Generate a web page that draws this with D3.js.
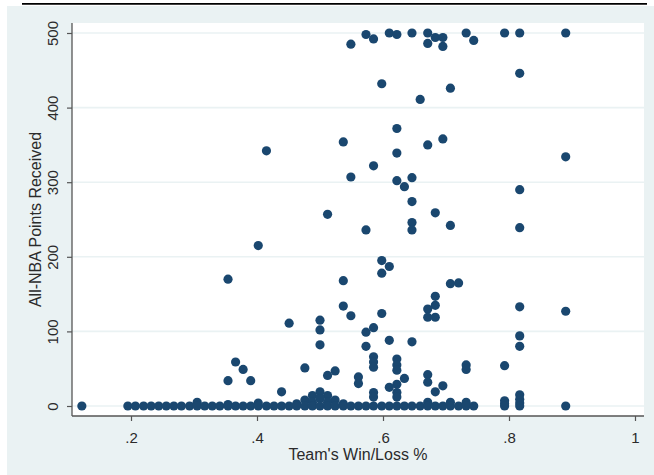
<!DOCTYPE html>
<html>
<head>
<meta charset="utf-8">
<script src="https://cdn.jsdelivr.net/npm/d3@7"></script>
<style>
  html, body { margin: 0; padding: 0; background: #ffffff; }
  svg { display: block; font-family: "Liberation Sans", Arial, sans-serif; }
</style>
</head>
<body>
<svg id="chart" width="654" height="475"></svg>
<script>
// team win/loss % and All-NBA points received
const winPct = [
  // players with votes
  0.549, 0.573, 0.585, 0.610, 0.622, 0.646, 0.671, 0.671, 0.683, 0.695, 0.695, 0.732, 0.744,
  0.793, 0.817, 0.890, 0.598, 0.707, 0.659, 0.817,
  0.622, 0.537, 0.671, 0.695, 0.622, 0.585, 0.549, 0.622, 0.646, 0.634, 0.646, 0.512, 0.683,
  0.890, 0.817, 0.415,
  0.573, 0.646, 0.646, 0.707, 0.817, 0.402, 0.598, 0.610, 0.598, 0.537, 0.707, 0.720, 0.354,
  0.683, 0.683, 0.671, 0.671, 0.683, 0.537, 0.549, 0.598, 0.817, 0.890, 0.451,
  0.500, 0.500, 0.500, 0.573, 0.585, 0.573, 0.610, 0.646, 0.817, 0.817,
  0.585, 0.585, 0.585, 0.622, 0.622, 0.622, 0.732, 0.732, 0.793, 0.476, 0.512, 0.524,
  0.561, 0.561, 0.634, 0.671, 0.671, 0.695, 0.366, 0.378, 0.354, 0.390, 0.439,
  0.585, 0.585, 0.622, 0.622, 0.622, 0.610, 0.683, 0.671, 0.707, 0.732,
  0.793, 0.793, 0.817, 0.817, 0.817, 0.305, 0.402, 0.354,
  0.500, 0.488, 0.512, 0.476, 0.524, 0.500, 0.488, 0.512, 0.463, 0.537,
  // players with zero points
  0.122, 0.195, 0.207, 0.220, 0.232, 0.244, 0.256, 0.268, 0.280, 0.293, 0.305, 0.317,
  0.329, 0.341, 0.354, 0.366, 0.378, 0.390, 0.402, 0.415, 0.427, 0.439, 0.451, 0.463,
  0.476, 0.488, 0.500, 0.512, 0.524, 0.537, 0.549, 0.561, 0.573, 0.585, 0.598, 0.610,
  0.622, 0.634, 0.646, 0.659, 0.671, 0.683, 0.695, 0.707, 0.720, 0.732, 0.744,
  0.793, 0.817, 0.890
];
const allNbaPts = [
  485, 498, 492, 500, 498, 500, 500, 486, 494, 494, 482, 500, 490,
  500, 500, 500, 432, 426, 411, 446,
  372, 354, 350, 358, 339, 322, 307, 302, 306, 294, 274, 257, 259,
  334, 290, 342,
  236, 246, 236, 242, 239, 215, 195, 187, 178, 168, 164, 165, 170,
  147, 135, 130, 119, 119, 134, 121, 124, 133, 127, 111,
  115, 102, 82, 99, 105, 80, 88, 86, 94, 80,
  66, 59, 52, 63, 55, 48, 55, 49, 54, 51, 41, 47,
  39, 30, 37, 42, 32, 27, 59, 49, 34, 34, 19,
  18, 12, 29, 18, 12, 25, 19, 5, 5, 5,
  7, 3, 15, 9, 4, 5, 4, 2,
  19, 14, 14, 8, 8, 10, 5, 5, 3, 3,
  0, 0, 0, 0, 0, 0, 0, 0, 0, 0, 0, 0,
  0, 0, 0, 0, 0, 0, 0, 0, 0, 0, 0, 0,
  0, 0, 0, 0, 0, 0, 0, 0, 0, 0, 0, 0,
  0, 0, 0, 0, 0, 0, 0, 0, 0, 0, 0,
  0, 0, 0
];
const xTicks = [0.2, 0.4, 0.6, 0.8, 1];
const yTicks = [0, 100, 200, 300, 400, 500];
const xTitle = "Team's Win/Loss %";
const yTitle = "All-NBA Points Received";

const points = winPct.map(function (w, i) {
    return {win: w, pts: allNbaPts[i]};
});

const bg = '#eaf2f3';
const navy = '#1a476f';
const ink = '#2b2b2b';

// plot region (white box) bounds
const plotLeft = 72, plotRight = 644, plotTop = 23, plotBottom = 416;

const svg = d3.select('#chart');

// cut-off caption rule at the very top
svg.append('line')
    .attr('x1', 22).attr('x2', 647)
    .attr('y1', 3.8).attr('y2', 3.8)
    .attr('stroke', '#000').attr('stroke-width', 1.8);

// graph region
svg.append('rect')
    .attr('x', 7).attr('y', 6)
    .attr('width', 654 - 7).attr('height', 475 - 6)
    .attr('fill', bg);

svg.append('rect')
    .attr('x', plotLeft).attr('y', plotTop)
    .attr('width', plotRight - plotLeft).attr('height', plotBottom - plotTop)
    .attr('fill', '#ffffff');

const x = d3.scaleLinear().domain([0.2, 1]).range([131, 635]);
const y = d3.scaleLinear().domain([0, 500]).range([406, 33]);

// gridlines
svg.append('g')
    .selectAll('line')
    .data(yTicks)
    .enter().append('line')
    .attr('x1', plotLeft).attr('x2', plotRight)
    .attr('y1', function (d) { return y(d) })
    .attr('y2', function (d) { return y(d) })
    .attr('stroke', bg).attr('stroke-width', 1.6);

// markers
svg.append('g')
    .selectAll('circle')
    .data(points)
    .enter().append('circle')
    .attr('cx', function (d) { return x(d.win) })
    .attr('cy', function (d) { return y(d.pts) })
    .attr('r', 4.6)
    .attr('fill', navy);

// x axis
const xAxis = svg.append('g')
    .attr('transform', 'translate(0,' + plotBottom + ')')
    .call(d3.axisBottom(x)
        .tickValues(xTicks)
        .tickSize(5)
        .tickSizeOuter(0)
        .tickFormat(function (d) { return d === 1 ? '1' : '.' + Math.round(d * 10) }));
xAxis.select('.domain').remove();
xAxis.append('line')
    .attr('x1', plotLeft).attr('x2', plotRight)
    .attr('stroke', '#555').attr('stroke-width', 1.3);
xAxis.selectAll('.tick line').attr('stroke', '#555').attr('stroke-width', 1.2);
xAxis.selectAll('.tick text')
    .attr('y', 27).attr('dy', 0)
    .attr('fill', ink)
    .style('font-size', '15px');

// y axis
const yAxis = svg.append('g')
    .attr('transform', 'translate(' + plotLeft + ',0)')
    .call(d3.axisLeft(y)
        .tickValues(yTicks)
        .tickSize(5)
        .tickSizeOuter(0));
yAxis.select('.domain').remove();
yAxis.append('line')
    .attr('y1', plotTop).attr('y2', plotBottom)
    .attr('stroke', '#555').attr('stroke-width', 1.3);
yAxis.selectAll('.tick line').attr('stroke', '#555').attr('stroke-width', 1.2);
yAxis.selectAll('.tick text')
    .attr('transform', 'rotate(-90)')
    .attr('x', 0).attr('y', -14).attr('dy', 0)
    .attr('text-anchor', 'middle')
    .attr('fill', ink)
    .style('font-size', '15px');

// titles
svg.append('text')
    .attr('x', (plotLeft + plotRight) / 2)
    .attr('y', 460)
    .attr('text-anchor', 'middle')
    .attr('fill', ink)
    .style('font-size', '16px')
    .text(xTitle);

svg.append('text')
    .attr('transform', 'translate(41,' + (plotTop + plotBottom) / 2 + ') rotate(-90)')
    .attr('text-anchor', 'middle')
    .attr('fill', ink)
    .style('font-size', '16px')
    .text(yTitle);
</script>
</body>
</html>
